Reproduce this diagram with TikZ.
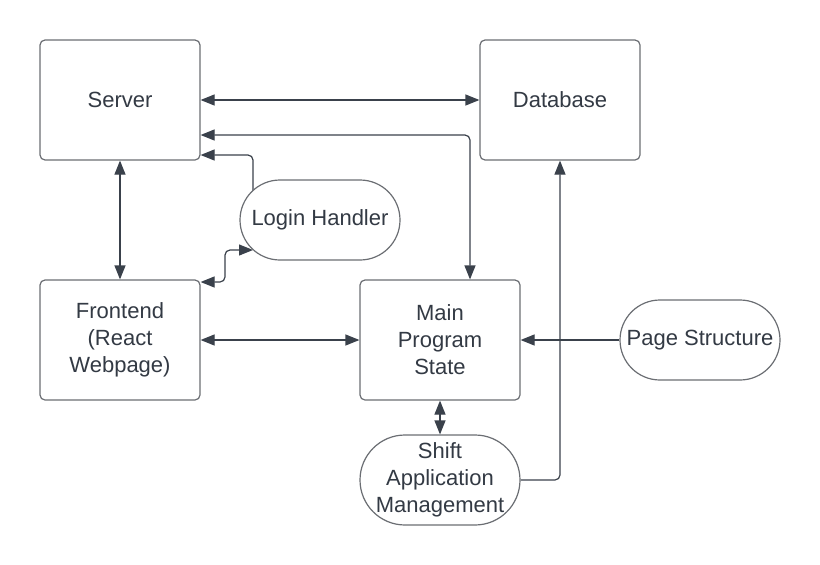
\documentclass[tikz,border=0pt]{standalone}
\usepackage{fontspec}
\setmainfont{Liberation Sans}
\usepackage{tikz}
\usetikzlibrary{arrows.meta,backgrounds}

\definecolor{boxline}{HTML}{6B6E73}
\definecolor{linkline}{HTML}{3A414B}
\definecolor{labeltext}{HTML}{333A44}

\tikzset{
    block/.style={draw=boxline, line width=1.2pt, fill=white, rectangle, rounded corners=5pt,
        minimum width=160pt, minimum height=120pt, align=center, text=labeltext,
        font=\fontsize{22}{27}\selectfont},
    pill/.style={block, rounded corners=40pt, minimum height=80pt},
    link/.style={draw=linkline, line width=1.2pt, rounded corners=5pt,
        arrows={-Triangle[length=14pt,width=11pt]}},
    biLink/.style={link, arrows={Triangle[length=14pt,width=11pt]-Triangle[length=14pt,width=11pt]}}
}

\begin{document}
\begin{tikzpicture}[x=1pt, y=-1pt]
    \useasboundingbox (0,0) rectangle (820,565);

    \node[block] (server) at (120,100) {Server};
    \node[block] (database) at (560,100) {Database};
    \node[block] (frontend) at (120,340) {Frontend\\(React\\Webpage)};
    \node[block] (main) at (440,340) {Main\\Program\\State};
    \node[pill] (login) at (320,220) {Login Handler};
    \node[pill] (page) at (700,340) {Page Structure};
    \node[pill, minimum height=90pt, rounded corners=45pt] (shift) at (440,480) {Shift\\Application\\Management};

    \coordinate (lgtop) at (253,200);
    \coordinate (lgbot) at (253,250);
    \coordinate (lgbend) at (225,250);

    \begin{pgfonlayer}{background}
        \draw[biLink] (server) -- (database);
        \draw[biLink] ([xshift=30pt]main.north) |- ([yshift=-35pt]server.east);
        \draw[link] (lgtop) |- ([yshift=-55pt]server.east);
        \draw[biLink] ([yshift=58pt]frontend.east) -| (lgbend) -- (lgbot);
        \draw[biLink] (server) -- (frontend);
        \draw[biLink] (frontend) -- (main);
        \draw[link] (page) -- (main);
        \draw[biLink] (main) -- (shift);
        \draw[link] (shift.east) -| (database.south);
    \end{pgfonlayer}
\end{tikzpicture}
\end{document}
